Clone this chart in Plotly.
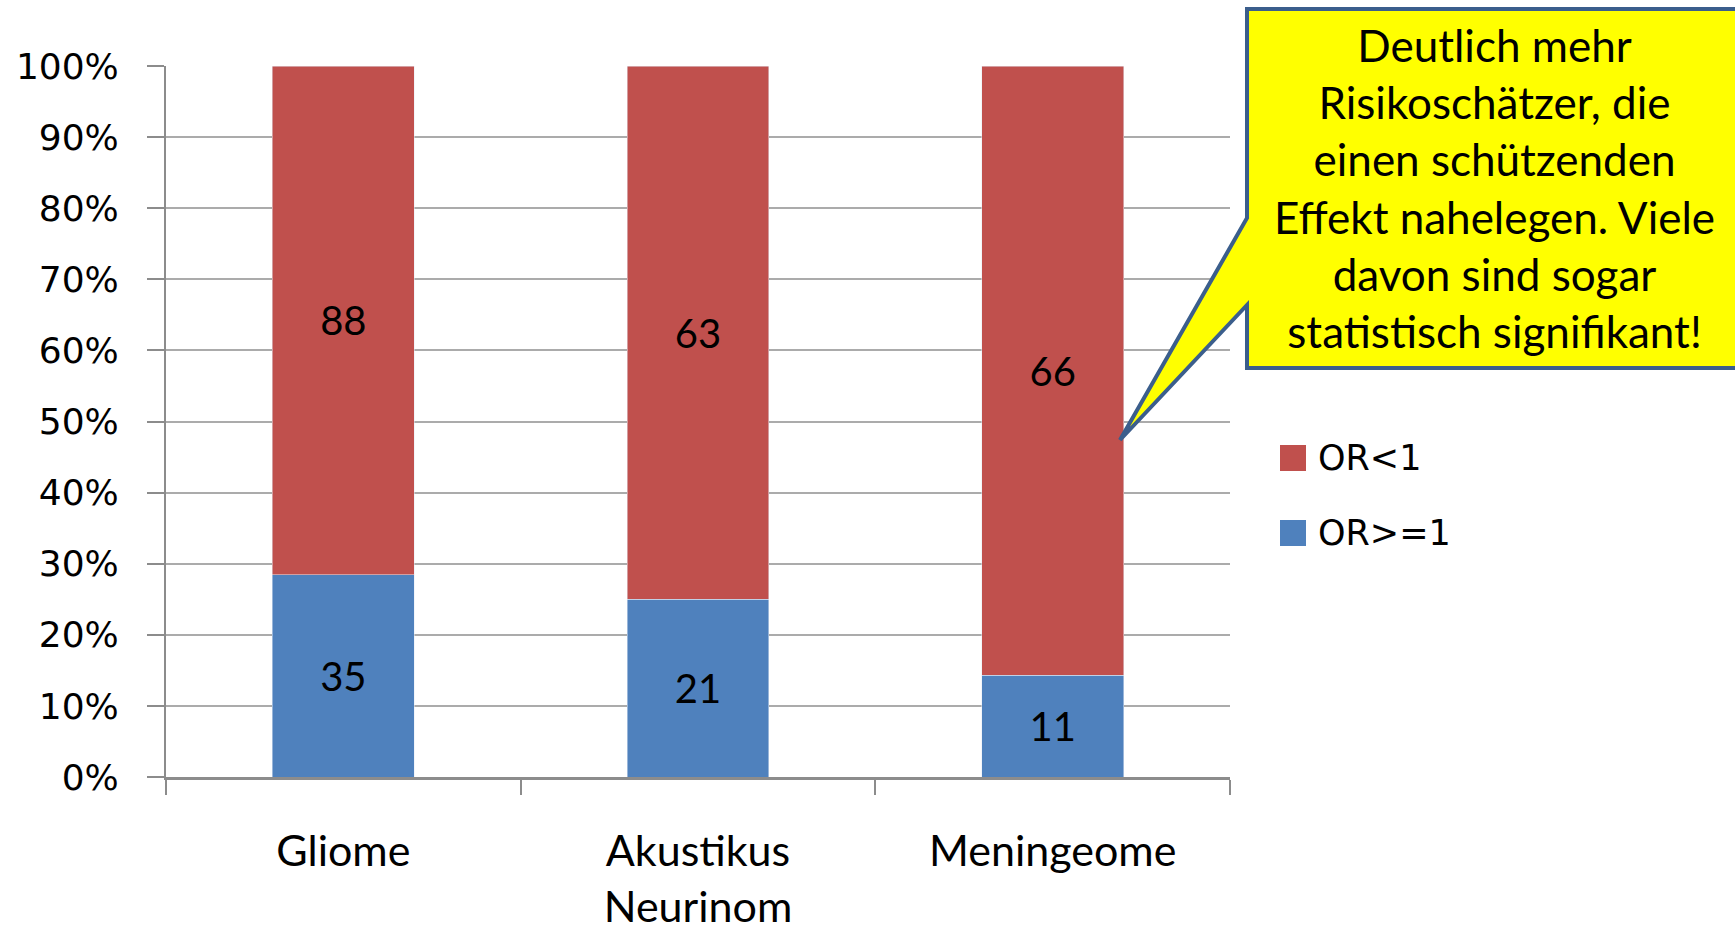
import plotly.graph_objects as go

# Share of risk estimates per tumour type (counts of odds ratios)
categories = ["Gliome", "Akustikus<br>Neurinom", "Meningeome"]
or_ge_1 = [35, 21, 11]   # OR>=1
or_lt_1 = [88, 63, 66]   # OR<1
tick_vals = list(range(0, 101, 10))
tick_text = [f"{v}%" for v in tick_vals]

BLUE = "#4F81BD"
RED = "#C0504D"
GRID = "#ABABAB"
AXIS = "#8C8C8C"

W, H = 1735, 928
L, R, T, B = 166, 505, 66, 151
PW, PH = W - L - R, H - T - B


def px(x, y):
    """Convert page pixels to paper coordinates of the plot area."""
    return (x - L) / PW, (H - B - y) / PH


fig = go.Figure()
fig.add_trace(go.Bar(
    x=categories, y=or_ge_1, name="OR>=1", marker_color=BLUE,
    text=or_ge_1, textposition="inside", insidetextanchor="middle",
    textfont=dict(family="Lato", size=40, color="black"),
    constraintext="none",
))
fig.add_trace(go.Bar(
    x=categories, y=or_lt_1, name="OR<1", marker_color=RED,
    text=or_lt_1, textposition="inside", insidetextanchor="middle",
    textfont=dict(family="Lato", size=40, color="black"),
    constraintext="none",
))

fig.update_layout(
    width=W, height=H,
    margin=dict(l=L, r=R, t=T, b=B, pad=0, autoexpand=False),
    barmode="stack", barnorm="percent", bargap=0.6,
    plot_bgcolor="white", paper_bgcolor="white",
    showlegend=False,
    font=dict(family="Lato", color="black"),
)
fig.update_xaxes(
    automargin=False,
    showline=True, linecolor=AXIS, linewidth=3,
    ticks="outside", tickson="boundaries", ticklen=15, tickwidth=2, tickcolor=AXIS,
    tickfont=dict(family="Lato", size=43, color="black"),
    showgrid=False, ticklabelstandoff=34,
)
fig.update_yaxes(
    automargin=False,
    range=[0, 100], tickmode="array", tickvals=tick_vals, ticktext=tick_text,
    showline=True, linecolor=AXIS, linewidth=2,
    ticks="outside", ticklen=17, tickwidth=2, tickcolor=AXIS,
    showgrid=True, gridcolor=GRID, gridwidth=2, zeroline=False,
    tickfont=dict(family="DejaVu Sans", size=36, color="black"),
    ticklabelstandoff=21,
)

# Legend drawn by hand so the colour swatches match the text size
legend_items = [("OR<1", RED, 458), ("OR>=1", BLUE, 533)]
for label, color, yc in legend_items:
    x0, y0 = px(1280, yc + 13)
    x1, y1 = px(1306, yc - 13)
    fig.add_shape(type="rect", xref="paper", yref="paper",
                  x0=x0, y0=y0, x1=x1, y1=y1,
                  fillcolor=color, line=dict(width=0))
    tx, ty = px(1316, yc)
    fig.add_annotation(xref="paper", yref="paper", x=tx, y=ty,
                       xanchor="left", yanchor="middle", showarrow=False,
                       text=label,
                       font=dict(family="DejaVu Sans", size=35, color="black"))

# Speech-bubble callout pointing into the Meningeome bar
bubble = [(1247, 9), (1750, 9), (1750, 368), (1247, 368),
          (1247, 305), (1120, 440), (1247, 218)]
pts = [px(x, y) for x, y in bubble]
path = "M " + " L ".join(f"{x:.5f},{y:.5f}" for x, y in pts) + " Z"
fig.add_shape(type="path", xref="paper", yref="paper", path=path,
              fillcolor="#FFFF00", line=dict(color="#3B5E8C", width=4))

cx, cy = px(1494, 188)
fig.add_annotation(
    xref="paper", yref="paper", x=cx, y=cy,
    xanchor="center", yanchor="middle", showarrow=False, align="center",
    text=("Deutlich mehr<br>Risikoschätzer, die<br>einen schützenden<br>"
          "Effekt nahelegen. Viele<br>davon sind sogar<br>statistisch signifikant!"),
    font=dict(family="Lato", size=44, color="black"),
)

fig.write_html("out.html")
